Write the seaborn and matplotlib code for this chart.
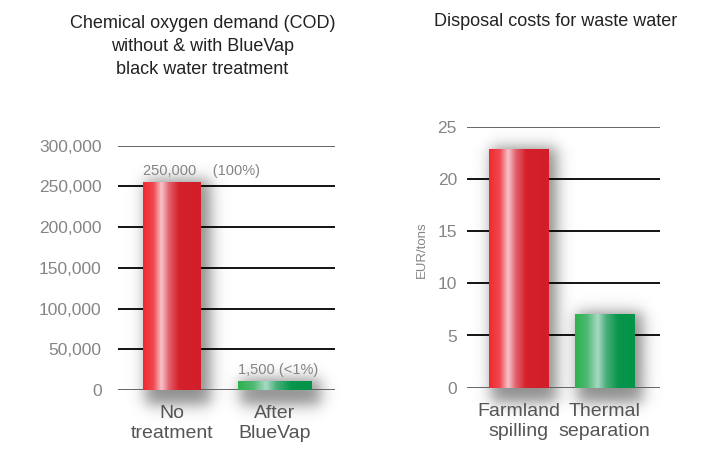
import numpy as np
import pandas as pd
import matplotlib
matplotlib.use("Agg")
import matplotlib.pyplot as plt
import seaborn as sns
from matplotlib.colors import LinearSegmentedColormap

# ---------------- data ----------------
cod_categories = ["No\ntreatment", "After\nBlueVap"]
cod_values = [255000, 10000]
cod_labels = ["250,000    (100%)", "1,500 (<1%)"]
cod_ticks = [0, 50000, 100000, 150000, 200000, 250000, 300000]
cod_tick_labels = ["0", "50,000", "100,000", "150,000", "200,000", "250,000", "300,000"]

cost_categories = ["Farmland\nspilling", "Thermal\nseparation"]
cost_values = [22.8, 7.0]
cost_ticks = [0, 5, 10, 15, 20, 25]
cost_tick_labels = ["0", "5", "10", "15", "20", "25"]

title_left = "Chemical oxygen demand (COD)\nwithout & with BlueVap\nblack water treatment"
title_right = "Disposal costs for waste water"
ylabel_right = "EUR/tons"

# ---------------- style ----------------
sns.set_style("white")
plt.rcParams["font.family"] = ["Liberation Sans", "DejaVu Sans"]

red_cmap = LinearSegmentedColormap.from_list("red", [
    (0.0, "#EF2A2F"), (0.18, "#F04850"), (0.32, "#F7C4CC"), (0.45, "#E2606B"),
    (0.62, "#D4212B"), (1.0, "#D11E28")])
green_cmap = LinearSegmentedColormap.from_list("green", [
    (0.0, "#2DB24C"), (0.2, "#4DB972"), (0.38, "#A8DAC4"), (0.52, "#4AAF7A"),
    (0.72, "#08964B"), (1.0, "#05924A")])

W, H = 716, 455
fig = plt.figure(figsize=(W / 100, H / 100), dpi=100)
fig.patch.set_facecolor("white")

ax1 = fig.add_axes([118 / W, 1 - 390 / H, 217 / W, 244.3 / H])
ax2 = fig.add_axes([467 / W, 1 - 387.7 / H, 193 / W, 261 / H])


def sig(z):
    return 1.0 / (1.0 + np.exp(-z))


def add_shadow(ax, patch):
    bb = patch.get_window_extent()
    sx0, sx1 = bb.x0 + 2, bb.x1 + 9
    sy0, sy1 = bb.y0 - 15, bb.y1 + 3
    s = 4.5
    pad = 22
    X = np.arange(sx0 - pad, sx1 + pad, 1.0)
    Y = np.arange(sy0 - pad, sy1 + pad, 1.0)
    axx = sig((X - sx0) / s) * sig((sx1 - X) / s)
    ayy = sig((Y - sy0) / s) * sig((sy1 - Y) / s)
    A = np.outer(ayy, axx) * 0.45
    rgba = np.zeros(A.shape + (4,))
    rgba[..., 3] = A
    inv = ax.transData.inverted()
    dx0, dy0 = inv.transform((X[0], Y[0]))
    dx1, dy1 = inv.transform((X[-1], Y[-1]))
    im = ax.imshow(rgba, extent=[dx0, dx1, dy0, dy1], origin="lower",
                   aspect="auto", zorder=0.3, interpolation="bilinear")
    im.set_clip_on(False)


def add_gradient(ax, patch, cmap):
    x, y = patch.get_x(), patch.get_y()
    w, h = patch.get_width(), patch.get_height()
    grad = np.linspace(0, 1, 256).reshape(1, -1)
    ax.imshow(grad, cmap=cmap, aspect="auto", extent=[x, x + w, y, y + h],
              origin="lower", zorder=2.2, interpolation="bicubic")


def draw_panel(ax, cats, vals, ticks, tick_labels, widths, xlim, ypad):
    df = pd.DataFrame({"cat": cats, "val": vals})
    sns.barplot(data=df, x="cat", y="val", hue="cat", ax=ax,
                palette=["#D4212B", "#08964B"], legend=False,
                width=widths[0], saturation=1, linewidth=0)
    for p, w in zip(ax.patches, widths):
        c = p.get_x() + p.get_width() / 2
        p.set_width(w)
        p.set_x(c - w / 2)
        p.set_zorder(2)
    ax.set_xlim(*xlim)
    ax.set_ylim(ticks[0], ticks[-1])
    ax.set_yticks(ticks)
    ax.set_yticklabels(tick_labels)
    ax.set_autoscale_on(False)
    ax.set_xlabel("")
    ax.set_ylabel("")
    for sp in ax.spines.values():
        sp.set_visible(False)
    ax.set_axisbelow(True)
    ax.yaxis.grid(True, color="black", linewidth=1.3)
    gls = ax.yaxis.get_gridlines()
    gls[0].set_color("#5a5a5a")
    gls[-1].set_color("#5a5a5a")
    ax.tick_params(axis="y", colors="#858585", labelsize=12.5, length=0, pad=ypad)
    ax.tick_params(axis="x", colors="#555555", labelsize=14, length=0, pad=11)
    for p, cm in zip(ax.patches, [red_cmap, green_cmap]):
        add_shadow(ax, p)
        add_gradient(ax, p, cm)


draw_panel(ax1, cod_categories, cod_values, cod_ticks, cod_tick_labels,
           [0.563, 0.718], (-0.524, 1.583), 11.7)
draw_panel(ax2, cost_categories, cost_values, cost_ticks, cost_tick_labels,
           [0.686, 0.686], (-0.599, 1.645), 7.2)

for p, lab in zip(ax1.patches, cod_labels):
    ax1.annotate(lab, xy=(p.get_x(), p.get_height()), xytext=(0, 8.5),
                 textcoords="offset points", ha="left", va="center",
                 fontsize=10.5, color="#858585")

ax2.set_ylabel(ylabel_right, fontsize=9.5, color="#858585")
ax2.yaxis.set_label_coords(-0.205, 0.528)

fig.text(202.5 / W, 1 - 46.5 / H, title_left, ha="center", va="center",
         fontsize=13, color="#222222", linespacing=1.45, multialignment="center")
fig.text(556 / W, 1 - 21 / H, title_right, ha="center", va="center",
         fontsize=13, color="#222222")

fig.savefig("out.png", dpi=100, facecolor="white")
